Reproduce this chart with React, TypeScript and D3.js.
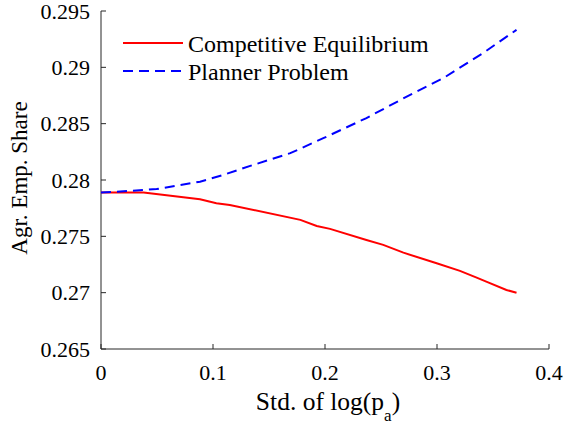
import React from 'react';
import * as d3 from 'd3';

// std of log(p_a) vs agricultural employment share
const ceSigma = [0, 0.038, 0.0884, 0.103, 0.115, 0.178, 0.1926, 0.2045, 0.237, 0.252, 0.27, 0.2997, 0.3205, 0.3354, 0.344, 0.362, 0.371];
const ceShare = [0.2789, 0.2789, 0.27829, 0.27793, 0.27779, 0.27646, 0.27592, 0.27566, 0.27468, 0.27424, 0.27355, 0.27261, 0.27193, 0.27133, 0.27098, 0.27024, 0.27];

const ppSigma = [0, 0.026, 0.0497, 0.0884, 0.109, 0.136, 0.169, 0.1985, 0.237, 0.276, 0.3056, 0.341, 0.371];
const ppShare = [0.27889, 0.27903, 0.2792, 0.27985, 0.28045, 0.28134, 0.28238, 0.28371, 0.2855, 0.28756, 0.28904, 0.29126, 0.29333];

const xTicks = [0, 0.1, 0.2, 0.3, 0.4];
const yTicks = [0.265, 0.27, 0.275, 0.28, 0.285, 0.29, 0.295];

const legendLabels = ['Competitive Equilibrium', 'Planner Problem'];

const font = '"Liberation Serif", Tinos, "Times New Roman", serif';
const axisColor = '#262626';

const x = d3.scaleLinear().domain([0, 0.4]).range([101, 549]);
const y = d3.scaleLinear().domain([0.265, 0.295]).range([349, 11]);

const line = d3.line<[number, number]>()
  .x(d => x(d[0]))
  .y(d => y(d[1]));

const fmt = d3.format('');

const App = () => {
  const series = [
    { pts: ceSigma.map((s, i) => [s, ceShare[i]] as [number, number]), color: '#ff0000', dash: undefined },
    { pts: ppSigma.map((s, i) => [s, ppShare[i]] as [number, number]), color: '#0000ff', dash: '10,6' },
  ];
  const [x0, x1] = x.range();
  const [y0, y1] = y.range();

  return (
    <svg width={566} height={426} style={{ position: 'absolute', left: 0, top: 0, background: '#fff', fontFamily: font }}>
      {/* axes */}
      <line x1={x0} x2={x1} y1={y0} y2={y0} stroke={axisColor} />
      <line x1={x0} x2={x0} y1={y0} y2={y1} stroke={axisColor} />
      {xTicks.map(t => (
        <g key={'x' + t}>
          <line x1={x(t)} x2={x(t)} y1={y0} y2={y0 - 5} stroke={axisColor} />
          <text x={x(t)} y={380} textAnchor="middle" fontSize={22}>{fmt(t)}</text>
        </g>
      ))}
      {yTicks.map(t => (
        <g key={'y' + t}>
          <line x1={x0} x2={x0 + 5} y1={y(t)} y2={y(t)} stroke={axisColor} />
          <text x={90} y={y(t)} dy="0.35em" textAnchor="end" fontSize={22}>{fmt(t)}</text>
        </g>
      ))}

      {/* series */}
      {series.map((s, i) => (
        <path key={i} d={line(s.pts) ?? ''} fill="none" stroke={s.color} strokeWidth={2} strokeDasharray={s.dash} />
      ))}

      {/* legend */}
      {legendLabels.map((label, i) => {
        const ly = 43 + i * 28;
        return (
          <g key={label}>
            <line x1={123} x2={183} y1={ly} y2={ly} stroke={series[i].color} strokeWidth={2} strokeDasharray={series[i].dash} />
            <text x={188} y={ly + 8.5} fontSize={24}>{label}</text>
          </g>
        );
      })}

      {/* axis labels */}
      <text x={328} y={410} textAnchor="middle" fontSize={25.5}>
        Std. of log(p<tspan dy={11} fontSize={17}>a</tspan><tspan dy={-11}>)</tspan>
      </text>
      <text transform="rotate(-90)" x={-178} y={27} textAnchor="middle" fontSize={23}>Agr. Emp. Share</text>
    </svg>
  );
};

export default App;
